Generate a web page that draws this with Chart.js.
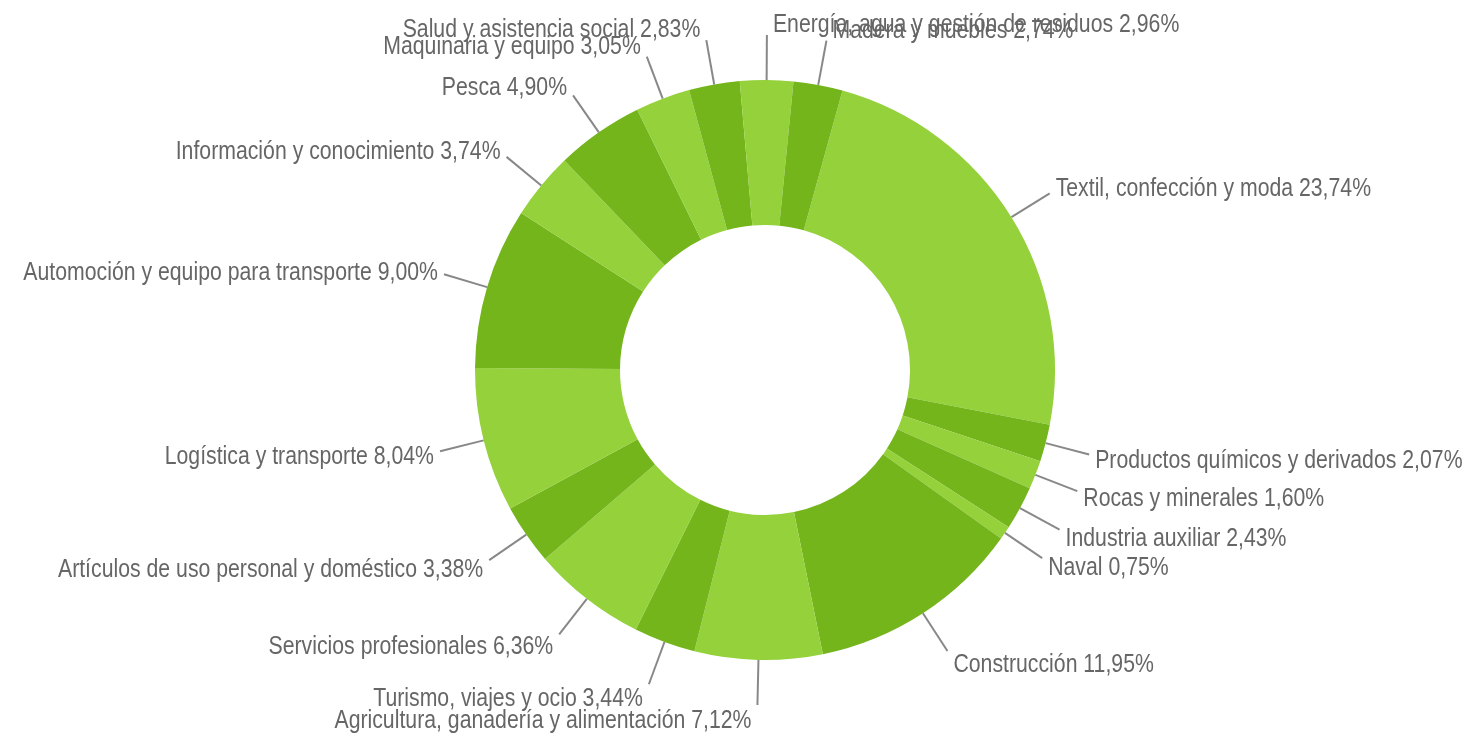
<!DOCTYPE html>
<html>
<head>
<meta charset="utf-8">
<script src="https://cdn.jsdelivr.net/npm/chart.js@4.4.0/dist/chart.umd.min.js"></script>
<style>
    html, body { margin: 0; padding: 0; background: #fff; }
    #wrap { width: 1474px; height: 736px; }
</style>
</head>
<body>
<div id="wrap"><canvas id="grafico-sectores"></canvas></div>
<script>
const sectores = [
    "Textil, confección y moda",
    "Productos químicos y derivados",
    "Rocas y minerales",
    "Industria auxiliar",
    "Naval",
    "Construcción",
    "Agricultura, ganadería y alimentación",
    "Turismo, viajes y ocio",
    "Servicios profesionales",
    "Artículos de uso personal y doméstico",
    "Logística y transporte",
    "Automoción y equipo para transporte",
    "Información y conocimiento",
    "Pesca",
    "Maquinaria y equipo",
    "Salud y asistencia social",
    "Energía, agua y gestión de residuos",
    "Madera y muebles",
];
const porcentajes = [23.74, 2.07, 1.60, 2.43, 0.75, 11.95, 7.12, 3.44, 6.36, 3.38, 8.04, 9.00, 3.74, 4.90, 3.05, 2.83, 2.96, 2.74];

const verdeClaro = "#94d13b";
const verdeOscuro = "#74b51c";
const colores = sectores.map(function (s, i) {
    return i % 2 == 0 ? verdeClaro : verdeOscuro;
});

function formatoPct(v) {
    return v.toFixed(2).replace(".", ",") + "%";
}

// etiquetas fuera del anillo con su linea (letra estrecha)
const etiquetasFuera = {
    id: "etiquetasFuera",
    afterDatasetsDraw(chart) {
        const ctx = chart.ctx;
        const meta = chart.getDatasetMeta(0);
        ctx.save();
        ctx.font = '25px "Liberation Sans", Arial, sans-serif';
        ctx.textBaseline = "middle";
        ctx.strokeStyle = "#888888";
        ctx.lineWidth = 2;
        meta.data.forEach(function (arc, i) {
            const p = arc.getProps(["x", "y", "startAngle", "endAngle", "outerRadius"], true);
            const mid = (p.startAngle + p.endAngle) / 2;
            const cos = Math.cos(mid);
            const sin = Math.sin(mid);
            const x0 = p.x + cos * p.outerRadius;
            const y0 = p.y + sin * p.outerRadius;
            const x1 = p.x + cos * (p.outerRadius + 45);
            const y1 = p.y + sin * (p.outerRadius + 45);

            ctx.beginPath();
            ctx.moveTo(x0, y0);
            ctx.lineTo(x1, y1);
            ctx.stroke();

            const texto = sectores[i] + " " + formatoPct(porcentajes[i]);
            const derecha = x1 >= p.x - 2;
            ctx.save();
            ctx.translate(derecha ? x1 + 6 : x1 - 6, y1 + sin * 13 + 3);
            ctx.scale(0.85, 1);
            ctx.fillStyle = "#666666";
            ctx.textAlign = derecha ? "left" : "right";
            ctx.fillText(texto, 0, 0);
            ctx.restore();
        });
        ctx.restore();
    },
};

const ctxSectores = document.getElementById("grafico-sectores").getContext("2d");

new Chart(ctxSectores, {
    type: "doughnut",
    data: {
        labels: sectores,
        datasets: [
            {
                data: porcentajes,
                backgroundColor: colores,
                borderWidth: 0,
            },
        ],
    },
    options: {
        responsive: true,
        maintainAspectRatio: false,
        animation: false,
        cutout: "50%",
        rotation: 15.5,
        layout: {
            padding: { left: 56, right: 0, top: 80, bottom: 76 },
        },
        plugins: {
            legend: { display: false },
            tooltip: { enabled: false },
        },
    },
    plugins: [etiquetasFuera],
});
</script>
</body>
</html>
